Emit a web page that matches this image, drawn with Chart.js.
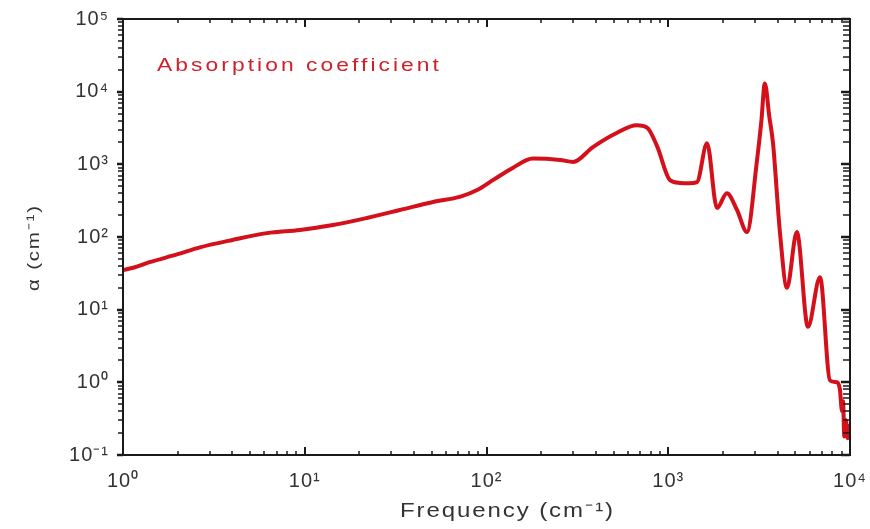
<!DOCTYPE html>
<html>
<head>
<meta charset="utf-8">
<script src="https://cdn.jsdelivr.net/npm/chart.js@4.4.1/dist/chart.umd.min.js"></script>
<style>
  html, body { margin: 0; padding: 0; background: #fff; }
  #wrap { width: 870px; height: 529px; }
</style>
</head>
<body>
<div id="wrap"><canvas id="absCanvas"></canvas></div>
<script>
// frequency in cm^-1, absorption coefficient in cm^-1
var freq = [1.0, 1.15, 1.4, 2.0, 2.65, 4.0, 6.2, 9.4, 14.3, 22, 33.4, 50.8, 72, 90, 110, 140,
  180, 254, 300, 385, 520, 670, 765, 870, 1020, 1160, 1300, 1440, 1634, 1855, 2100, 2390,
  2710, 3080, 3250, 3400, 3600, 3770, 4120, 4500, 5100, 5870, 6840, 7760, 8480, 8800,
  9040, 9160, 9300, 9500, 9700, 9850, 10000];
var alpha = [35, 38, 45, 58, 72, 91, 113, 125, 146, 183, 235, 303, 360, 450, 620, 900,
  1200, 1150, 1080, 1730, 2700, 3450, 3200, 1750, 610, 555, 550, 570, 1950, 250, 400, 235,
  117, 1150, 3830, 13000, 4480, 1970, 113, 20, 117, 5.8, 28, 1.06, 1.0, 0.8,
  0.4, 0.55, 0.18, 0.3, 0.17, 0.25, 0.2];

var xTickExps = [0, 1, 2, 3, 4];
var yTickExps = [-1, 0, 1, 2, 3, 4, 5];
var seriesLabel = "Absorption coefficient";
var xTitle = "Frequency (cm\u207B\u00B9)";
var yTitle = "\u03B1 (cm\u207B\u00B9)";

var sup = { "-": "\u207B", "0": "\u2070", "1": "\u00B9", "2": "\u00B2", "3": "\u00B3",
  "4": "\u2074", "5": "\u2075" };
function powLabel(e) {
  return "10" + String(e).split("").map(function (c) { return sup[c]; }).join("");
}

var fontFam = '"Liberation Sans", Arial, sans-serif';

// draws text stretched a bit wider and spaced out to fill the given width
function fitText(ctx, text, x, y, width) {
  var sx = 1.2;
  ctx.save();
  ctx.letterSpacing = "0px";
  var w = ctx.measureText(text).width;
  ctx.translate(x, y);
  ctx.scale(sx, 1);
  ctx.letterSpacing = ((width / sx - w) / text.length) + "px";
  ctx.fillText(text, 0, 0);
  ctx.restore();
}

var frame = {
  id: "frame",
  beforeDraw: function (chart) {
    chart.ctx.letterSpacing = "1px";
  },
  afterDraw: function (chart) {
    var ctx = chart.ctx, a = chart.chartArea;
    var xs = chart.scales.x, ys = chart.scales.y;
    ctx.save();
    ctx.letterSpacing = "0px";
    ctx.strokeStyle = "#1a1a1a";
    ctx.lineWidth = 2;
    ctx.strokeRect(a.left, a.top, a.right - a.left, a.bottom - a.top);

    function seg(x1, y1, x2, y2, w) {
      ctx.lineWidth = w;
      ctx.beginPath();
      ctx.moveTo(x1, y1);
      ctx.lineTo(x2, y2);
      ctx.stroke();
    }

    xTickExps.forEach(function (e, i) {
      for (var m = 1; m <= 9; m++) {
        if (m > 1 && i === xTickExps.length - 1) break;
        var px = Math.round(xs.getPixelForValue(m * Math.pow(10, e)));
        var major = m === 1;
        var len = major ? 8 : 4;
        seg(px, a.bottom, px, a.bottom - len, major ? 2 : 1.5);
        seg(px, a.top, px, a.top + len, major ? 2 : 1.5);
      }
    });
    yTickExps.forEach(function (e, i) {
      for (var m = 1; m <= 9; m++) {
        if (m > 1 && i === yTickExps.length - 1) break;
        var py = Math.round(ys.getPixelForValue(m * Math.pow(10, e)));
        var major = m === 1;
        seg(a.left, py, a.left - (major ? 6 : 5), py, major ? 2.5 : 1.5);
        seg(a.right, py, a.right - (major ? 9 : 7), py, major ? 2.5 : 1.5);
      }
    });

    ctx.textBaseline = "alphabetic";
    ctx.textAlign = "left";
    ctx.fillStyle = "#d0202a";
    ctx.font = "19px " + fontFam;
    fitText(ctx, seriesLabel, 157, 71, 285);

    ctx.fillStyle = "#333";
    ctx.font = "20px " + fontFam;
    fitText(ctx, xTitle, 400, 517, 215);

    ctx.translate(39, 248);
    ctx.rotate(-Math.PI / 2);
    ctx.font = "17px " + fontFam;
    fitText(ctx, yTitle, -43, 0, 87);
    ctx.restore();
  }
};

function decadeTicks(exps) {
  return function (scale) {
    scale.ticks = exps.map(function (e) { return { value: Math.pow(10, e) }; });
  };
}

var ctx = document.getElementById("absCanvas").getContext("2d");
var absChart = new Chart(ctx, {
  type: "line",
  data: {
    datasets: [
      {
        label: seriesLabel,
        data: freq.map(function (f, i) { return { x: f, y: alpha[i] }; }),
        borderColor: "#d4101a",
        backgroundColor: "#d4101a",
        borderWidth: 4,
        pointRadius: 0,
        cubicInterpolationMode: "monotone",
        fill: false,
      },
    ],
  },
  options: {
    responsive: true,
    maintainAspectRatio: false,
    animation: false,
    layout: { padding: { left: 0, top: 19, right: 20, bottom: 0 } },
    plugins: {
      legend: { display: false },
      tooltip: { enabled: false },
    },
    scales: {
      x: {
        type: "logarithmic",
        min: 1,
        max: 10000,
        border: { display: false },
        grid: { display: false, drawTicks: false },
        afterBuildTicks: decadeTicks(xTickExps),
        afterFit: function (scale) {
          scale.height = 74;
          scale.paddingLeft = 0;
          scale.paddingRight = 0;
        },
        ticks: {
          autoSkip: false,
          maxRotation: 0,
          padding: 14,
          color: "#333",
          font: { family: fontFam, size: 20 },
          callback: function (v) { return powLabel(Math.round(Math.log10(v))); },
        },
      },
      y: {
        type: "logarithmic",
        min: 0.1,
        max: 100000,
        border: { display: false },
        grid: { display: false, drawTicks: false },
        afterBuildTicks: decadeTicks(yTickExps),
        afterFit: function (scale) {
          scale.width = 123;
          scale.paddingTop = 0;
          scale.paddingBottom = 0;
        },
        ticks: {
          autoSkip: false,
          padding: 14,
          color: "#333",
          font: { family: fontFam, size: 20 },
          callback: function (v) { return powLabel(Math.round(Math.log10(v))); },
        },
      },
    },
  },
  plugins: [frame],
});
</script>
</body>
</html>
